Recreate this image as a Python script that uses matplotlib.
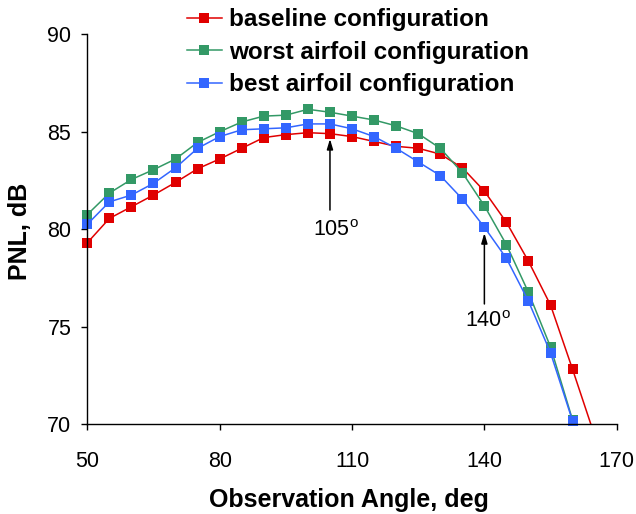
import matplotlib

matplotlib.use("Agg")
import matplotlib.pyplot as plt
import numpy as np
from matplotlib.lines import Line2D

plt.rcParams["font.family"] = ["Liberation Sans", "DejaVu Sans"]
plt.rcParams["mathtext.fontset"] = "custom"
plt.rcParams["mathtext.rm"] = "Liberation Sans"

# observation angle (deg)
angle_base = np.arange(50, 166, 5)
angle_air = np.arange(50, 161, 5)

# PNL, dB
pnl_baseline = [79.3, 80.55, 81.15, 81.75, 82.4, 83.1, 83.6, 84.15, 84.7, 84.85,
                84.95, 84.9, 84.75, 84.5, 84.25, 84.15, 83.85, 83.15, 81.95, 80.35,
                78.35, 76.1, 72.8, 69.4]
pnl_worst = [80.75, 81.85, 82.55, 83.05, 83.6, 84.45, 85.0, 85.5, 85.8, 85.85,
             86.15, 86.0, 85.8, 85.6, 85.3, 84.9, 84.15, 82.9, 81.2, 79.2,
             76.75, 73.95, 70.2]
pnl_best = [80.25, 81.4, 81.75, 82.35, 83.15, 84.15, 84.75, 85.1, 85.15, 85.2,
            85.4, 85.4, 85.15, 84.75, 84.15, 83.45, 82.75, 81.55, 80.1, 78.5,
            76.3, 73.65, 70.15]

labels = ["baseline configuration", "worst airfoil configuration",
          "best airfoil configuration"]
colors = ["#e00000", "#339966", "#3366ff"]

xticks = [50, 80, 110, 140, 170]
yticks = [70, 75, 80, 85, 90]

MS = 7.9
LW = 1.1

fig = plt.figure(figsize=(6.36, 5.14), dpi=100)
ax = fig.add_axes([0.1373, 0.1751, 0.8324, 0.7582])

series = [(angle_base, pnl_baseline), (angle_air, pnl_worst), (angle_air, pnl_best)]
for (x, y), c in zip(series, colors):
    x, y = np.asarray(x), np.asarray(y)
    ax.plot(x, y, color=c, lw=LW)
    # markers on the frame edge are drawn whole, like the original
    keep = y >= 70
    ax.plot(x[keep], y[keep], ls="none", marker="s", ms=MS, mew=0, color=c,
            clip_on=False)

ax.set_xlim(50, 170)
ax.set_ylim(70, 90)
ax.set_xticks(xticks)
ax.set_yticks(yticks)
for s in ("top", "right"):
    ax.spines[s].set_visible(False)
for s in ("left", "bottom"):
    ax.spines[s].set_linewidth(1.0)
ax.tick_params(axis="both", direction="out", length=4.5, width=1.0, labelsize=15.5)
ax.tick_params(axis="x", pad=15)
ax.tick_params(axis="y", pad=7)

ax.set_xlabel("Observation Angle, deg", fontsize=18, fontweight="bold")
ax.xaxis.set_label_coords(0.4934, -0.1945)
ax.xaxis.label.set_va("center")
ax.set_ylabel("PNL, dB", fontsize=18, fontweight="bold")
ax.yaxis.set_label_coords(-0.127, 0.495)
ax.yaxis.label.set_va("center")

arrow = dict(arrowstyle="-|>,head_length=0.6,head_width=0.18", color="black",
             lw=1.1, shrinkA=0, shrinkB=0)
ax.annotate("", xy=(105, 84.63), xytext=(105, 80.98), arrowprops=arrow)
ax.text(106.3, 79.95, "105$^{\\mathrm{o}}$", fontsize=15.5, ha="center", va="center")
ax.annotate("", xy=(140, 79.8), xytext=(140, 76.16), arrowprops=arrow)
ax.text(140.7, 75.24, "140$^{\\mathrm{o}}$", fontsize=15.5, ha="center", va="center")

handles = [Line2D([], [], color=c, lw=LW, marker="s", ms=MS, mew=0) for c in colors]
ax.legend(handles, labels, loc="upper left", bbox_to_anchor=(0.2936, 0.984),
          bbox_transform=fig.transFigure, frameon=False,
          prop={"size": 17.5, "weight": "bold"}, handlelength=1.46,
          handletextpad=0.28, labelspacing=0.39, borderpad=0,
          borderaxespad=0, numpoints=1)

fig.savefig("out.png", dpi=100)
